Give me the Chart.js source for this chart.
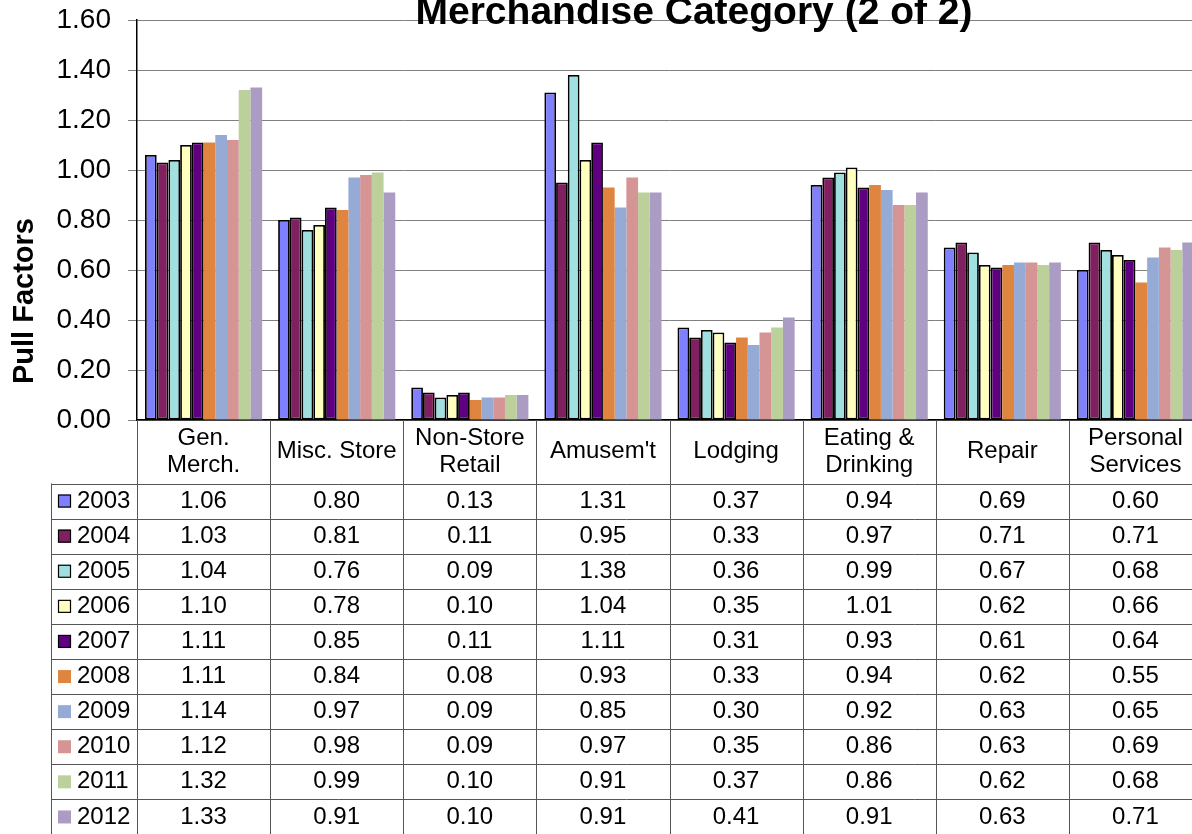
<!DOCTYPE html>
<html>
<head>
<meta charset="utf-8">
<script src="https://cdn.jsdelivr.net/npm/chart.js@4/dist/chart.umd.min.js"></script>
<style>
  html, body { margin: 0; padding: 0; background: #fff; overflow: hidden; }
  #wrap { width: 1210px; height: 834px; position: relative; }
</style>
</head>
<body>
<div id="wrap"><canvas id="c" width="1210" height="834"></canvas></div>
<script>
const title = "Merchandise Category (2 of 2)";
const yTitle = "Pull Factors";
const categories = ["Gen. Merch.", "Misc. Store", "Non-Store Retail", "Amusem't", "Lodging", "Eating & Drinking", "Repair", "Personal Services"];
const categoryLines = [["Gen.", "Merch."], ["Misc. Store"], ["Non-Store", "Retail"], ["Amusem't"], ["Lodging"], ["Eating &", "Drinking"], ["Repair"], ["Personal", "Services"]];
const years = ["2003", "2004", "2005", "2006", "2007", "2008", "2009", "2010", "2011", "2012"];
const v2003 = [1.06, 0.80, 0.13, 1.31, 0.37, 0.94, 0.69, 0.60];
const v2004 = [1.03, 0.81, 0.11, 0.95, 0.33, 0.97, 0.71, 0.71];
const v2005 = [1.04, 0.76, 0.09, 1.38, 0.36, 0.99, 0.67, 0.68];
const v2006 = [1.10, 0.78, 0.10, 1.04, 0.35, 1.01, 0.62, 0.66];
const v2007 = [1.11, 0.85, 0.11, 1.11, 0.31, 0.93, 0.61, 0.64];
const v2008 = [1.11, 0.84, 0.08, 0.93, 0.33, 0.94, 0.62, 0.55];
const v2009 = [1.14, 0.97, 0.09, 0.85, 0.30, 0.92, 0.63, 0.65];
const v2010 = [1.12, 0.98, 0.09, 0.97, 0.35, 0.86, 0.63, 0.69];
const v2011 = [1.32, 0.99, 0.10, 0.91, 0.37, 0.86, 0.62, 0.68];
const v2012 = [1.33, 0.91, 0.10, 0.91, 0.41, 0.91, 0.63, 0.71];
const seriesValues = [v2003, v2004, v2005, v2006, v2007, v2008, v2009, v2010, v2011, v2012];
const yTickMin = 0, yTickMax = 1.6, yTickStep = 0.2;

const colors = ["#8080FF", "#802060", "#A0E0E0", "#FFFFC0", "#600080", "#E08540", "#95ABD5", "#D59595", "#BBD09A", "#AA9CC3"];
const bordered = [true, true, true, true, true, false, false, false, false, false];
const FONT = "'Liberation Sans', Arial, Helvetica, sans-serif";

const datasets = years.map((y, i) => ({
  label: y,
  data: seriesValues[i],
  backgroundColor: colors[i],
  borderColor: bordered[i] ? "#000" : colors[i],
  borderWidth: bordered[i] ? 1.8 : 0,
  borderSkipped: false,
  categoryPercentage: 0.88,
  barPercentage: 1.0
}));

const tablePlugin = {
  id: "dataTable",
  afterDraw(chart) {
    const ctx = chart.ctx;
    const xs = chart.scales.x;
    const area = chart.chartArea;
    const n = categories.length;
    const catW = (xs.getPixelForValue(1) - xs.getPixelForValue(0));
    const left = xs.getPixelForValue(0) - catW / 2;
    const right = xs.getPixelForValue(n - 1) + catW / 2;
    const top = area.bottom;
    const headerBottom = top + 63.5;
    const rowH = 35.1;
    const legendLeft = 51;
    const bottom = 834;

    ctx.save();
    ctx.strokeStyle = "#555";
    ctx.lineWidth = 1;
    ctx.beginPath();
    for (let i = 0; i <= n; i++) {
      const x = Math.round(left + i * catW) + 0.5;
      ctx.moveTo(x, top); ctx.lineTo(x, bottom);
    }
    ctx.moveTo(legendLeft + 0.5, headerBottom); ctx.lineTo(legendLeft + 0.5, bottom);
    for (let r = 0; r <= years.length; r++) {
      const y = Math.round(headerBottom + r * rowH) + 0.5;
      ctx.moveTo(legendLeft, y); ctx.lineTo(right, y);
    }
    ctx.stroke();

    ctx.fillStyle = "#000";
    ctx.font = "24px " + FONT;
    ctx.textAlign = "center";
    ctx.textBaseline = "middle";
    categoryLines.forEach((lines, i) => {
      const cx = xs.getPixelForValue(i);
      const mid = (top + headerBottom) / 2;
      if (lines.length === 1) {
        ctx.fillText(lines[0], cx, mid);
      } else {
        ctx.fillText(lines[0], cx, mid - 13.5);
        ctx.fillText(lines[1], cx, mid + 13.5);
      }
    });

    years.forEach((yr, r) => {
      const cy = headerBottom + r * rowH + rowH / 2;
      ctx.fillStyle = colors[r];
      ctx.fillRect(58, cy - 6.5, 13, 13);
      if (bordered[r]) {
        ctx.strokeStyle = "#000";
        ctx.lineWidth = 1.2;
        ctx.strokeRect(58.5, cy - 6, 12, 12);
      }
      ctx.fillStyle = "#000";
      ctx.textAlign = "left";
      ctx.fillText(yr, 77, cy);
      ctx.textAlign = "center";
      seriesValues[r].forEach((v, i) => {
        ctx.fillText(v.toFixed(2), xs.getPixelForValue(i), cy);
      });
    });

    ctx.font = "bold 39px " + FONT;
    ctx.textAlign = "center";
    ctx.textBaseline = "alphabetic";
    ctx.fillText(title, 694, 24);

    ctx.font = "bold 29px " + FONT;
    ctx.translate(33, 301);
    ctx.rotate(-Math.PI / 2);
    ctx.textAlign = "center";
    ctx.textBaseline = "alphabetic";
    ctx.fillText(yTitle, 0, 0);
    ctx.restore();
  }
};

new Chart(document.getElementById("c"), {
  type: "bar",
  data: { labels: categories, datasets },
  options: {
    responsive: false,
    animation: false,
    devicePixelRatio: 1,
    layout: { padding: { left: 0, right: 8, top: 20, bottom: 414 } },
    plugins: { legend: { display: false }, tooltip: { enabled: false }, title: { display: false } },
    scales: {
      x: {
        grid: { display: false },
        ticks: { display: false },
        border: { display: true, color: "#000", width: 1.5 },
        afterFit(s) { s.height = 0; s.paddingLeft = 0; s.paddingRight = 0; }
      },
      y: {
        min: yTickMin,
        max: yTickMax,
        ticks: {
          stepSize: yTickStep,
          color: "#000",
          font: { family: FONT, size: 28 },
          padding: 17,
          callback: (v) => Number(v).toFixed(2)
        },
        grid: { color: "#808080", lineWidth: 1, tickLength: 9, tickColor: "#808080" },
        border: { display: true, color: "#000", width: 1.5 },
        afterFit(s) { s.width = 137; s.paddingTop = 0; s.paddingBottom = 0; }
      }
    }
  },
  plugins: [tablePlugin]
});
</script>
</body>
</html>
